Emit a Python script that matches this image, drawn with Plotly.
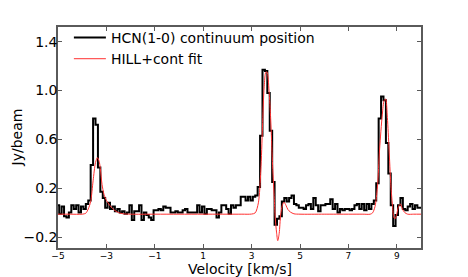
import plotly.graph_objects as go

# channel centres (km/s) and observed flux (Jy/beam)
velocity = [round(-5.0 + 0.1 * k, 1) for k in range(151)]
flux = [
    0.06, -0.01, 0.05, -0.03, -0.04, 0.00, 0.06, 0.03, 0.06, 0.00,   # -5.0 .. -4.1
    0.05, 0.03, 0.07, 0.10, 0.39, 0.77, 0.72, 0.37, 0.17, 0.12,     # -4.0 .. -3.1
    0.04, 0.08, 0.03, 0.05, 0.01, 0.03, 0.00, 0.01, -0.01, 0.00,    # -3.0 .. -2.1
    0.06, -0.06, 0.01, 0.01, 0.06, -0.06, 0.00, -0.02, -0.04, -0.06, # -2.0 .. -1.1
    0.02, 0.02, 0.03, 0.02, 0.05, 0.04, 0.04, 0.00, 0.00, 0.01,     # -1.0 .. -0.1
    0.00, 0.00, 0.02, 0.03, 0.00, 0.00, 0.00, 0.00, 0.06, 0.00,     # 0.0 .. 0.9
    0.05, -0.01, 0.03, 0.03, 0.02, 0.02, -0.04, 0.00, 0.06, 0.06,   # 1.0 .. 1.9
    0.03, -0.01, 0.06, 0.04, 0.06, 0.06, 0.13, 0.13, 0.10, 0.13,    # 2.0 .. 2.9
    0.10, 0.13, 0.14, 0.21, 0.63, 1.17, 1.16, 0.98, 0.67, 0.25,     # 3.0 .. 3.9
    -0.10, -0.05, -0.03, 0.09, 0.12, 0.09, 0.12, 0.14, 0.07, 0.06,  # 4.0 .. 4.9
    0.04, 0.04, 0.03, 0.06, 0.07, 0.03, 0.12, 0.06, 0.01, 0.06,     # 5.0 .. 5.9
    0.06, 0.07, 0.07, 0.11, 0.03, 0.07, 0.00, 0.03, 0.02, 0.03,     # 6.0 .. 6.9
    0.03, 0.02, 0.03, 0.06, 0.07, 0.03, 0.07, 0.02, 0.07, 0.03,     # 7.0 .. 7.9
    0.07, 0.10, 0.24, 0.77, 0.95, 0.92, 0.57, 0.32, 0.06, -0.11,    # 8.0 .. 8.9
    -0.02, 0.06, 0.12, 0.03, 0.02, 0.05, 0.07, 0.03, 0.06, 0.04,    # 9.0 .. 9.9
    0.04,                                                           # 10.0
]

# HILL + continuum fit, sampled off the curve
fit_velocity = [
    -5.0, -4.5, -4.0, -3.85, -3.75, -3.65, -3.55, -3.45, -3.37, -3.3, -3.25,
    -3.18, -3.1, -3.0, -2.9, -2.8, -2.7, -2.6, -2.5, -2.3, -2.0, -1.0, 0.0,
    1.0, 2.0, 2.6, 3.0, 3.15, 3.28, 3.38, 3.45, 3.52, 3.59, 3.64, 3.72, 3.79,
    3.86, 3.93, 3.98, 4.03, 4.08, 4.14, 4.2, 4.27, 4.34, 4.42, 4.5, 4.6, 4.75,
    5.0, 6.0, 7.0, 7.6, 7.9, 8.0, 8.1, 8.2, 8.29, 8.4, 8.48, 8.54, 8.61, 8.68,
    8.75, 8.82, 8.88, 8.93, 9.0, 9.07, 9.15, 9.23, 9.33, 9.45, 9.7, 10.0,
]
fit_flux = [
    -0.013, -0.013, -0.013, -0.005, 0.03, 0.09, 0.26, 0.41, 0.45, 0.42, 0.36,
    0.23, 0.15, 0.10, 0.07, 0.045, 0.025, 0.01, 0.0, -0.01, -0.013, -0.013, -0.013,
    -0.013, -0.013, -0.013, -0.012, -0.002, 0.08, 0.34, 0.70, 1.03, 1.15, 1.15, 1.0, 0.76,
    0.42, 0.14, -0.05, -0.16, -0.23, -0.17, -0.02, 0.06, 0.085, 0.06, 0.025, 0.005, -0.01,
    -0.013, -0.013, -0.013, -0.013, -0.013, -0.002, 0.05, 0.21, 0.52, 0.80, 0.92, 0.93, 0.78, 0.52,
    0.24, 0.06, -0.04, -0.05, -0.01, 0.05, 0.07, 0.03, 0.0, -0.013, -0.013, -0.013,
]

x_ticks = [-5, -3, -1, 1, 3, 5, 7, 9]
x_tick_text = ["−5", "−3", "−1", "1", "3", "5", "7", "9"]
y_ticks = [-0.2, 0.2, 0.6, 1.0, 1.4]
y_tick_text = ["−0.2", "0.2", "0.6", "1.0", "1.4"]

font_family = "DejaVu Sans"

fig = go.Figure()
fig.add_trace(go.Scatter(
    x=velocity, y=flux, mode="lines", line=dict(color="black", width=2, shape="hvh"),
    name="HCN(1-0) continuum position",
))
fig.add_trace(go.Scatter(
    x=fit_velocity, y=fit_flux, mode="lines",
    line=dict(color="#ff3030", width=1, shape="spline", smoothing=0.8),
    name="HILL+cont fit",
))

axis_common = dict(
    showgrid=False, zeroline=False, showline=True, linecolor="#5a5a5a", linewidth=1.5,
    mirror="ticks", ticks="inside", ticklen=4, tickcolor="#5a5a5a", tickwidth=1,
    automargin=False,
)

fig.update_layout(
    width=468, height=277,
    margin=dict(l=50, r=55, t=19, b=37),
    paper_bgcolor="white", plot_bgcolor="white",
    font=dict(family=font_family, color="black", size=14),
    showlegend=True,
    legend=dict(x=0.03, y=1.023, xanchor="left", yanchor="top", bgcolor="rgba(0,0,0,0)",
                font=dict(size=14, family=font_family), tracegroupgap=0, itemwidth=32),
    xaxis=dict(range=[-5, 10], tickvals=x_ticks, ticktext=x_tick_text,
               tickfont=dict(size=9, family=font_family), ticklabelstandoff=-2,
               **axis_common),
    yaxis=dict(range=[-0.29, 1.52], tickvals=y_ticks, ticktext=y_tick_text,
               tickfont=dict(size=14, family=font_family), ticklabelstandoff=-4,
               **axis_common),
    annotations=[
        dict(text="Velocity [km/s]", xref="paper", yref="paper", x=0.5, y=-0.095,
             xanchor="center", yanchor="middle", showarrow=False, font=dict(size=14)),
        dict(text="Jy/beam", xref="paper", yref="paper", x=-0.113, y=0.5, textangle=-90,
             xanchor="center", yanchor="middle", showarrow=False, font=dict(size=14)),
    ],
)

fig.write_html("out.html")
